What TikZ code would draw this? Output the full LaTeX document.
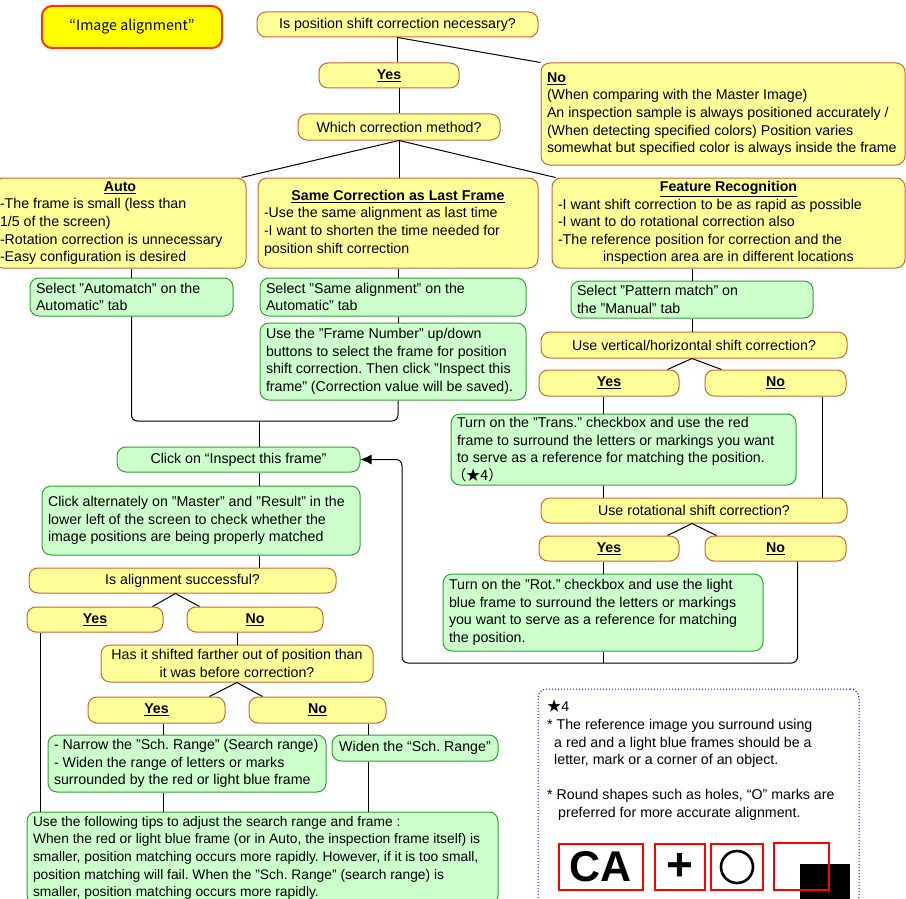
\documentclass[tikz,border=0pt]{standalone}
\usepackage{fontspec}
\setmainfont{Liberation Sans}
\newfontfamily\cjk{Noto Sans CJK JP}
\usetikzlibrary{arrows.meta}
\definecolor{yelfill}{HTML}{FFFF99}
\definecolor{yelline}{HTML}{CC6633}
\definecolor{grnfill}{HTML}{CCFFCC}
\definecolor{grnline}{HTML}{33A033}
\definecolor{titlefill}{HTML}{FFFF00}
\definecolor{titleline}{HTML}{FF3300}
\newcommand\boxfont{\fontsize{14.2pt}{17.6pt}\selectfont\frenchspacing}
\newcommand\mkhead[1]{\underline{\textbf{#1}}}
\newcommand\leftpar[2]{\parbox{#1}{\raggedright\rightskip=0pt plus 1fil minus 12pt\relax #2}}
\tikzset{
  yelbox/.style={draw=yelline, fill=yelfill, line width=1pt, rounded corners=9pt, inner xsep=6pt, inner ysep=0pt, font=\boxfont},
  grnbox/.style={draw=grnline, fill=grnfill, line width=1pt, rounded corners=9pt, inner xsep=6pt, inner ysep=0pt, font=\boxfont},
  titlebox/.style={draw=titleline, fill=titlefill, line width=2pt, rounded corners=10pt, font=\boxfont},
  notebox/.style={draw=blue, dotted, line width=1pt, rounded corners=9pt},
  redframe/.style={draw=red, line width=1.6pt, inner sep=0pt},
  flow/.style={line width=1pt},
}
\begin{document}
\begin{tikzpicture}[x=1pt, y=-1pt]
      \useasboundingbox (0,0) rectangle (906,899);
      \clip (0,0) rectangle (906,899);
      \fill[white] (0,0) rectangle (906,899);

      \node[titlebox, minimum width=180pt, minimum height=42pt] (title) at (132,27) {{\cjk “Image alignment”}};
      \node[yelbox, minimum width=281pt, minimum height=25pt] (shiftq) at (397.5,24.5) {Is position shift correction necessary?};
      \node[yelbox, minimum width=140pt, minimum height=25pt] (shiftyes) at (389,75.5) {\mkhead{Yes}};
      \node[yelbox, minimum width=364pt, minimum height=102pt] (shiftno) at (723,114) {\leftpar{352pt}{\mkhead{No}\\(When comparing with the Master Image)\\An inspection sample is always positioned accurately /\\(When detecting specified colors) Position varies\\somewhat but specified color is always inside the frame}};
      \node[yelbox, minimum width=202pt, minimum height=26pt] (methodq) at (399,127) {Which correction method?};

      \node[yelbox, minimum width=252pt, minimum height=90pt] (autobox) at (120,223) {\leftpar{240pt}{\makebox[\linewidth]{\mkhead{Auto}}\\-The frame is small (less than\\1/5 of the screen)\\-Rotation correction is unnecessary\\-Easy configuration is desired}};
      \node[yelbox, minimum width=280pt, minimum height=90pt] (samebox) at (398,223) {\leftpar{268pt}{\makebox[\linewidth]{\mkhead{Same Correction as Last Frame}}\\-Use the same alignment as last time\\-I want to shorten the time needed for\\position shift correction}};
      \node[yelbox, minimum width=353pt, minimum height=90pt] (featbox) at (728.5,223) {\leftpar{341pt}{\makebox[\linewidth]{\mkhead{Feature Recognition}}\\-I want shift correction to be as rapid as possible\\-I want to do rotational correction also\\-The reference position for correction and the\\\hspace*{45pt}inspection area are in different locations}};

      \node[grnbox, minimum width=203pt, minimum height=38pt] (autosel) at (131.5,297) {\leftpar{191pt}{Select "Automatch" on the\\Automatic" tab}};
      \node[grnbox, minimum width=266pt, minimum height=38pt] (samesel) at (393,297) {\leftpar{254pt}{Select "Same alignment" on the\\Automatic" tab}};
      \node[grnbox, minimum width=266pt, minimum height=77pt] (framesel) at (393,361.5) {\leftpar{254pt}{Use the "Frame Number" up/down\\buttons to select the frame for position\\shift correction. Then click "Inspect this\\frame" (Correction value will be saved).}};

      \node[grnbox, minimum width=242pt, minimum height=37pt] (patsel) at (692,299.5) {\leftpar{230pt}{Select "Pattern match" on\\the "Manual" tab}};
      \node[yelbox, minimum width=306pt, minimum height=26pt] (transq) at (694,345) {Use vertical/horizontal shift correction?};
      \node[yelbox, minimum width=140pt, minimum height=26pt] (transyes) at (609,383) {\mkhead{Yes}};
      \node[yelbox, minimum width=141pt, minimum height=26pt] (transno) at (775.5,383) {\mkhead{No}};
      \node[grnbox, minimum width=345pt, minimum height=71pt] (transset) at (623.5,449.5) {\leftpar{333pt}{Turn on the "Trans." checkbox and use the red\\frame to surround the letters or markings you want\\to serve as a reference for matching the position.\\\hspace*{-5pt}{\cjk （★4）}}};
      \node[yelbox, minimum width=306pt, minimum height=25pt] (rotq) at (694,510.5) {Use rotational shift correction?};
      \node[yelbox, minimum width=140pt, minimum height=25pt] (rotyes) at (609,548.5) {\mkhead{Yes}};
      \node[yelbox, minimum width=141pt, minimum height=25pt] (rotno) at (775.5,548.5) {\mkhead{No}};
      \node[grnbox, minimum width=320pt, minimum height=77pt] (rotset) at (603,612.5) {\leftpar{308pt}{Turn on the "Rot." checkbox and use the light\\blue frame to surround the letters or markings\\you want to serve as a reference for matching\\the position.}};

      \node[grnbox, minimum width=243pt, minimum height=25pt] (inspect) at (238.5,459.5) {Click on “Inspect this frame”};
      \node[grnbox, minimum width=318pt, minimum height=69pt] (compare) at (201,520.5) {\leftpar{306pt}{Click alternately on "Master" and "Result" in the\\lower left of the screen to check whether the\\image positions are being properly matched}};
      \node[yelbox, minimum width=307pt, minimum height=25pt] (okq) at (182.5,580.5) {Is alignment successful?};
      \node[yelbox, minimum width=136pt, minimum height=25pt] (okyes) at (95,619.5) {\mkhead{Yes}};
      \node[yelbox, minimum width=136pt, minimum height=25pt] (okno) at (255,619.5) {\mkhead{No}};
      \node[yelbox, minimum width=272pt, minimum height=37pt, align=center] (farq) at (237,663.5) {Has it shifted farther out of position than\\it was before correction?};
      \node[yelbox, minimum width=137pt, minimum height=26pt] (faryes) at (156.5,710) {\mkhead{Yes}};
      \node[yelbox, minimum width=137pt, minimum height=26pt] (farno) at (317.5,710) {\mkhead{No}};
      \node[grnbox, minimum width=278pt, minimum height=57pt] (narrowset) at (187,763.5) {\leftpar{266pt}{- Narrow the "Sch. Range" (Search range)\\- Widen the range of letters or marks\\surrounded by the red or light blue frame}};
      \node[grnbox, minimum width=166pt, minimum height=26pt] (widenset) at (415,748) {Widen the “Sch. Range”};
      \node[grnbox, minimum width=471pt, minimum height=92pt, font=\fontsize{13.8pt}{17.6pt}\selectfont\frenchspacing] (tips) at (262.5,858) {\leftpar{459pt}{Use the following tips to adjust the search range and frame :\\When the red or light blue frame (or in Auto, the inspection frame itself) is\\smaller, position matching occurs more rapidly. However, if it is too small,\\position matching will fail. When the "Sch. Range" (search range) is\\smaller, position matching occurs more rapidly.}};

      \node[notebox, minimum width=321pt, minimum height=217pt] (note) at (698.5,797.5) {};
      \node[anchor=north west, inner sep=0pt, align=left, font=\boxfont] (notetext) at (547,700) {{\cjk ★}4\\{}* The reference image you surround using\\\hspace*{7pt}a red and a light blue frames should be a\\\hspace*{7pt}letter, mark or a corner of an object.\\[17.6pt]{}* Round shapes such as holes, “O” marks are\\\hspace*{11pt}preferred for more accurate alignment.};
      \fill (800,864) rectangle (850,906);
      \node[redframe, minimum width=84pt, minimum height=46pt, font=\fontsize{43pt}{43pt}\selectfont\bfseries] (ca) at (601,867) {CA};
      \node[redframe, minimum width=50pt, minimum height=46pt, font=\fontsize{46pt}{46pt}\selectfont\bfseries] (plus) at (680,867) {+};
      \node[redframe, minimum width=52pt, minimum height=46pt] (ring) at (737,867) {};
      \draw[line width=2.6pt] (ring.center) circle (16pt);
      \node[redframe, minimum width=55pt, minimum height=47pt] (corner) at (801.5,866.5) {};

      \draw[flow] (shiftq.south) -- (shiftq.south |- shiftyes.north);
      \draw[flow] (shiftq.south) -- (shiftno.north west);
      \draw[flow] (methodq.north) -- (methodq.north |- shiftyes.south);
      \draw[flow] (methodq.south) -- ([xshift=-5pt]autobox.north east);
      \draw[flow] (methodq.south) -- (methodq.south |- samebox.north);
      \draw[flow] (methodq.south) -- ([xshift=4pt]featbox.north west);
      \draw[flow] (autosel.north) -- (autosel.north |- autobox.south);
      \draw[flow] (samebox.south) -- (samebox.south |- samesel.north);
      \draw[flow] (samebox.south |- samesel.south) -- (samebox.south |- framesel.north);
      \coordinate (join) at (259,421);
      \draw[flow, rounded corners=6pt] (autosel.south) |- (join) -| (samebox.south |- framesel.south);
      \draw[flow] (join) -- (join |- inspect.north);
      \draw[flow] (join |- inspect.south) -- (join |- compare.north);
      \draw[flow] (join |- compare.south) -- (join |- okq.north);
      \coordinate (okfork) at ([xshift=-7pt]okq.south);
      \draw[flow] ([xshift=-11pt]okyes.north east) -- (okfork) -- ([xshift=13pt]okno.north west);
      \draw[flow] (farq.north) -- (farq.north |- okno.south);
      \draw[flow] ([xshift=-16pt]faryes.north east) -- (farq.south) -- ([xshift=14pt]farno.north west);
      \draw[flow] ([xshift=14pt]okyes.south west) -- ([xshift=14pt]okyes.south west |- tips.north);
      \coordinate (narrowx) at ([xshift=6.5pt]faryes.south);
      \draw[flow] (narrowx) -- (narrowx |- narrowset.north);
      \draw[flow] (narrowx |- narrowset.south) -- (narrowx |- tips.north);
      \coordinate (widenx) at ([xshift=50.5pt]farno.south);
      \draw[flow] (widenx) -- (widenx |- widenset.north);
      \draw[flow] (widenx |- widenset.south) -- (widenx |- tips.north);

      \draw[flow] (featbox.south -| patsel.north) -- (patsel.north);
      \draw[flow] (patsel.south) -- (patsel.south |- transq.north);
      \coordinate (transfork) at ([xshift=-2pt]transq.south);
      \draw[flow] ([xshift=-12pt]transyes.north east) -- (transfork) -- ([xshift=17pt]transno.north west);
      \draw[flow] (rotset.north |- transyes.south) -- (rotset.north |- transset.north);
      \draw[flow] (rotset.north |- transset.south) -- (rotset.north |- rotq.north);
      \coordinate (skipx) at ([xshift=-24pt]transno.south east);
      \draw[flow] (skipx) -- (skipx |- rotq.north);
      \coordinate (rotfork) at ([xshift=-2pt]rotq.south);
      \draw[flow] ([xshift=-12pt]rotyes.north east) -- (rotfork) -- ([xshift=12pt]rotno.north west);
      \draw[flow] (rotset.north |- rotyes.south) -- (rotset.north);
      \coordinate (loopl) at (402,663);
      \draw[flow] (rotset.south) -- (rotset.south |- loopl);
      \draw[flow, rounded corners=6pt, -{Latex[length=11pt,width=10pt]}] ([xshift=-49pt]rotno.south east) |- (loopl) |- (inspect.east);
\end{tikzpicture}
\end{document}
